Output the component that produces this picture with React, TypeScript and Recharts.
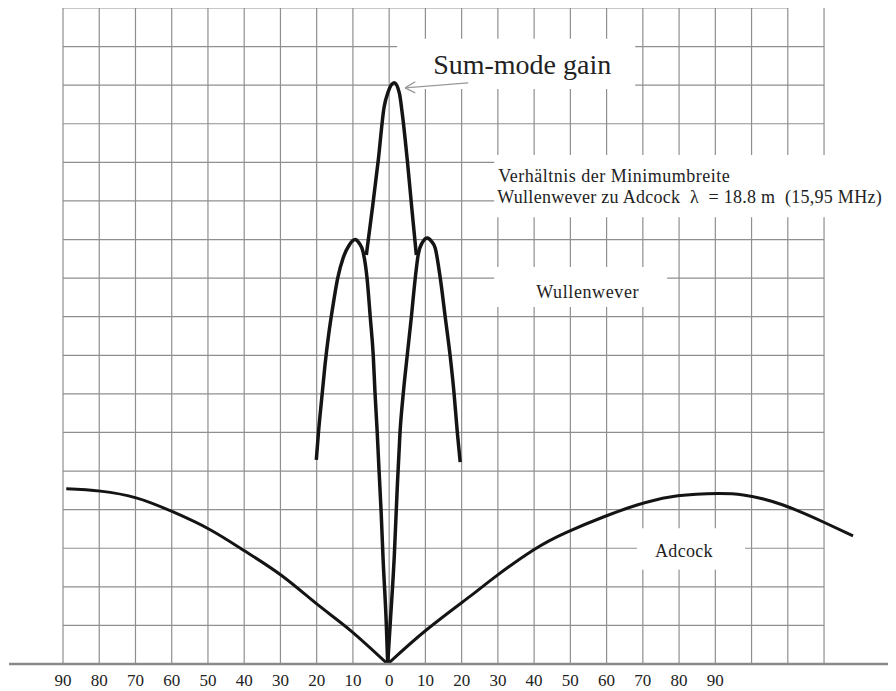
import React from 'react';
import { LineChart, Line, XAxis, YAxis, ReferenceLine, ReferenceArea } from 'recharts';

// angle ticks (left half mirrored) and grid positions
const xTicks = [-90, -80, -70, -60, -50, -40, -30, -20, -10, 0, 10, 20, 30, 40, 50, 60, 70, 80, 90];
const gridXs = [-90, -80, -70, -60, -50, -40, -30, -20, -10, 0, 10, 20, 30, 40, 50, 60, 70, 80, 90, 100, 110, 120];
const gridYs = [1, 2, 3, 4, 5, 6, 7, 8, 9, 10, 11, 12, 13, 14, 15, 16, 17];

// Sum-mode gain
const sumX = [-6.3, -4.7, -3.0, -1.4, -0.3, 1.4, 2.8, 3.6, 5.0, 6.3, 7.5];
const sumY = [10.6, 11.76, 13.06, 14.43, 14.82, 15.06, 14.8, 14.28, 13.06, 11.76, 10.6];

// Wullenwever lobes
const lobeLeftX = [-20.1, -19.5, -18.6, -17.7, -16.7, -15.6, -14.2, -12.7, -11.0, -9.4, -8.3, -7.2, -6.1, -5.2, -4.4, -3.9, -3.3, -2.8, -2.2, -1.7, -0.8, -0.4];
const lobeLeftY = [5.29, 6.01, 6.89, 7.75, 8.53, 9.23, 10.0, 10.52, 10.86, 11.0, 10.91, 10.68, 10.0, 8.97, 8.01, 7.02, 6.01, 5.03, 3.91, 2.77, 1.06, 0];
const lobeRightX = [-0.4, 0.3, 1.4, 2.2, 3.0, 3.9, 5.0, 6.1, 7.2, 8.0, 9.2, 10.5, 11.7, 12.7, 14.1, 15.5, 16.8, 17.9, 18.8, 19.6];
const lobeRightY = [0, 1.06, 2.77, 4.5, 6.01, 7.02, 8.01, 8.97, 10.0, 10.6, 10.93, 11.04, 10.95, 10.78, 10.0, 8.97, 8.01, 7.02, 6.01, 5.23];

// Adcock
const adcockLeftX = [-89.1, -79.7, -69.6, -59.6, -49.4, -39.7, -29.5, -19.9, -10.8, -0.4];
const adcockLeftY = [4.54, 4.48, 4.3, 3.94, 3.48, 2.92, 2.28, 1.55, 0.88, 0];
const adcockRightX = [-0.4, 10.5, 22.4, 28.7, 39.7, 49.1, 59.1, 68.4, 77.5, 87.7, 97.7, 108.7, 119.8, 128];
const adcockRightY = [0, 0.9, 1.76, 2.22, 2.95, 3.42, 3.81, 4.12, 4.33, 4.41, 4.38, 4.12, 3.68, 3.32];

const zip = (xs: number[], ys: number[]) => xs.map((x, i) => ({ x, y: ys[i] }));

const sumData = zip(sumX, sumY);
const lobeLeft = zip(lobeLeftX, lobeLeftY);
const lobeRight = zip(lobeRightX, lobeRightY);
const adcockLeft = zip(adcockLeftX, adcockLeftY);
const adcockRight = zip(adcockRightX, adcockRightY);

const FONT = '"Liberation Serif", "DejaVu Serif", serif';
const GRID = '#8f8f8f';
const INK = '#141414';

// text lines placed relative to the top-left corner of the white patch
const boxLabel = (lines: { text: string; dx: number; dy: number; size: number; spacing?: number }[]) =>
  (props: any) => {
    const vb = props.viewBox || {};
    return (
      <g>
        {lines.map((l, i) => (
          <text
            key={i}
            x={vb.x + l.dx}
            y={vb.y + l.dy}
            fontFamily={FONT}
            fontSize={l.size}
            letterSpacing={l.spacing || 0}
            fill="#222"
            style={{ whiteSpace: 'pre' }}
          >
            {l.text}
          </text>
        ))}
      </g>
    );
  };

export default function App() {
  return (
    <div style={{ width: 888, height: 683 }}>
      <LineChart width={888} height={683} margin={{ top: 0, right: 6, bottom: 0, left: 1 }}>
        <XAxis
          dataKey="x"
          type="number"
          domain={[-104.9, 138.2]}
          ticks={xTicks}
          tickFormatter={(v: number) => String(Math.abs(v))}
          tickLine={false}
          tickMargin={4}
          height={27}
          axisLine={{ stroke: '#8a8a8a', strokeWidth: 2.5 }}
          tick={{ fill: '#222', fontSize: 17, fontFamily: FONT }}
          interval={0}
        />
        <YAxis type="number" domain={[0, 17]} hide />

        {gridXs.map((v) => (
          <ReferenceLine key={'gx' + v} segment={[{ x: v, y: 0 }, { x: v, y: 17 }]} stroke={GRID} strokeWidth={1.2} zIndex={10} />
        ))}
        {gridYs.map((v) => (
          <ReferenceLine
            key={'gy' + v}
            segment={[{ x: -90, y: v }, { x: v === 17 ? 110 : 120, y: v }]}
            stroke={GRID}
            strokeWidth={1.2}
            zIndex={10}
          />
        ))}

        <ReferenceArea x1={2.2} x2={67.9} y1={14.9} y2={16.2} fill="#fff" fillOpacity={1} stroke="none" zIndex={20}
          label={boxLabel([{ text: 'Sum-mode gain', dx: 36, dy: 35, size: 28 }])} />
        <ReferenceArea x1={29.0} x2={138.2} y1={11.58} y2={13.19} fill="#fff" fillOpacity={1} stroke="none" zIndex={20}
          label={boxLabel([
            { text: 'Verhältnis der Minimumbreite', dx: 4, dy: 27, size: 18, spacing: 0.5 },
            { text: 'Wullenwever zu Adcock  λ  = 18.8 m  (15,95 MHz)', dx: 3, dy: 48, size: 18, spacing: 0.28 },
          ])} />
        <ReferenceArea x1={29.0} x2={76.7} y1={9.25} y2={10.29} fill="#fff" fillOpacity={1} stroke="none" zIndex={20}
          label={boxLabel([{ text: 'Wullenwever', dx: 42, dy: 31, size: 18, spacing: 0.6 }])} />
        <ReferenceArea x1={68.4} x2={98.2} y1={2.44} y2={3.52} fill="#fff" fillOpacity={1} stroke="none" zIndex={20}
          label={boxLabel([{ text: 'Adcock', dx: 18, dy: 29, size: 18, spacing: 0.3 }])} />

        {/* arrow from the caption to the peak */}
        <ReferenceLine segment={[{ x: 4.4, y: 14.93 }, { x: 21.8, y: 15.06 }]} stroke="#999" strokeWidth={1.3} zIndex={30} />
        <ReferenceLine segment={[{ x: 4.4, y: 14.93 }, { x: 7.2, y: 15.09 }]} stroke="#999" strokeWidth={1.3} zIndex={30} />
        <ReferenceLine segment={[{ x: 4.4, y: 14.93 }, { x: 7.2, y: 14.8 }]} stroke="#999" strokeWidth={1.3} zIndex={30} />

        <Line data={adcockLeft} dataKey="y" type="natural" stroke={INK} strokeWidth={3} dot={false} isAnimationActive={false} />
        <Line data={adcockRight} dataKey="y" type="natural" stroke={INK} strokeWidth={3} dot={false} isAnimationActive={false} />
        <Line data={lobeLeft} dataKey="y" type="monotone" stroke={INK} strokeWidth={3.5} dot={false} isAnimationActive={false} />
        <Line data={lobeRight} dataKey="y" type="monotone" stroke={INK} strokeWidth={3.5} dot={false} isAnimationActive={false} />
        <Line data={sumData} dataKey="y" type="monotone" stroke={INK} strokeWidth={3.5} dot={false} isAnimationActive={false} />
      </LineChart>
    </div>
  );
}
